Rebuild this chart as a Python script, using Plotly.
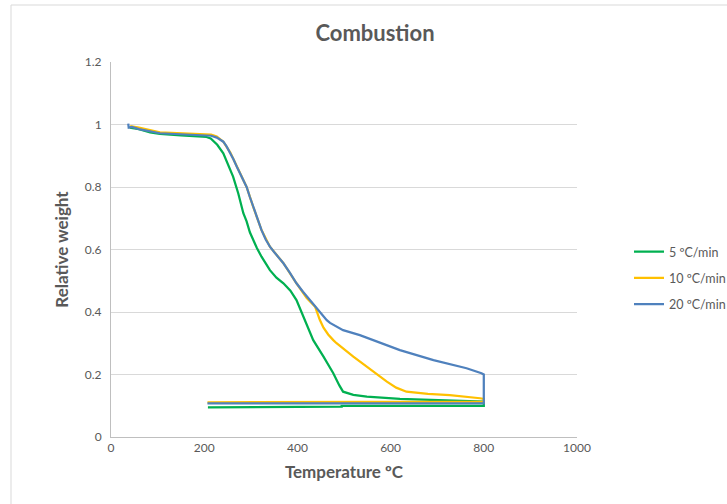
import plotly.graph_objects as go

# 5 °C/min
t5 = [40, 60, 84, 105, 150, 191, 205, 214, 228, 241, 252, 262, 273, 284, 291, 298, 313, 323, 341, 355, 370,
      385, 398, 416, 434, 456, 477, 490, 498, 520, 549, 620, 700, 760, 800, 800, 495, 495, 298, 298, 208]
w5 = [0.99, 0.985, 0.975, 0.97, 0.965, 0.962, 0.96, 0.955, 0.935, 0.908, 0.87, 0.833, 0.78, 0.716, 0.69, 0.655,
      0.605, 0.577, 0.534, 0.51, 0.492, 0.468, 0.438, 0.374, 0.31, 0.257, 0.204, 0.165, 0.145, 0.135, 0.129,
      0.122, 0.118, 0.115, 0.113, 0.1, 0.1, 0.097, 0.097, 0.095, 0.095]

# 10 °C/min
t10 = [41, 60, 105, 150, 191, 215, 227, 241, 256, 270, 291, 305, 323, 341, 359, 370, 398, 420, 438, 448, 456,
       466, 477, 484, 520, 549, 592, 612, 634, 680, 727, 792, 800, 800, 411, 411, 307, 307, 207]
w10 = [0.995, 0.99, 0.975, 0.972, 0.97, 0.968, 0.962, 0.945, 0.91, 0.865, 0.80, 0.737, 0.662, 0.609, 0.577,
       0.556, 0.492, 0.445, 0.417, 0.375, 0.35, 0.328, 0.31, 0.30, 0.257, 0.225, 0.177, 0.158, 0.145, 0.138,
       0.134, 0.124, 0.122, 0.113, 0.113, 0.112, 0.112, 0.111, 0.111]

# 20 °C/min
t20 = [37, 38, 45, 60, 105, 150, 191, 215, 227, 241, 248, 256, 263, 270, 280, 291, 298, 305, 314, 323, 332,
       341, 350, 359, 370, 384, 398, 412, 427, 442, 456, 463, 470, 484, 498, 534, 620, 692, 763, 795, 800,
       800, 207]
w20 = [1.003, 0.99, 0.992, 0.985, 0.972, 0.968, 0.966, 0.964, 0.958, 0.945, 0.93, 0.91, 0.888, 0.865, 0.835,
       0.80, 0.768, 0.737, 0.698, 0.662, 0.632, 0.609, 0.592, 0.577, 0.556, 0.525, 0.492, 0.465, 0.438, 0.412,
       0.385, 0.374, 0.365, 0.353, 0.342, 0.326, 0.278, 0.246, 0.22, 0.204, 0.2, 0.108, 0.108]

names = ["5 ºC/min", "10 ºC/min", "20 ºC/min"]
colors = ["#00B050", "#FFC000", "#4F81BD"]

FONT = "Lato, Open Sans, sans-serif"
fig = go.Figure()
for i, (t, w, n, c) in enumerate(zip([t5, t10, t20], [w5, w10, w20], names, colors)):
    fig.add_trace(go.Scatter(x=t, y=w, mode="lines", name=n, legendgroup=f"g{i}",
                             line=dict(color=c, width=2.25), hoverinfo="skip"))

W, H = 727, 504
L, R, T, B = 111, 150, 62, 67
pw, ph = W - L - R, H - T - B

fig.update_layout(
    width=W, height=H,
    margin=dict(l=L, r=R, t=T, b=B, autoexpand=False),
    paper_bgcolor="white", plot_bgcolor="white",
    font=dict(family=FONT, color="#595959", size=12),
    title=dict(text="<b>Combustion</b>", x=375 / W, xref="container", xanchor="center",
               y=1 - 33 / H, yref="container", yanchor="middle",
               font=dict(size=22, color="#595959", family=FONT)),
    xaxis=dict(range=[0, 1000], dtick=200, tick0=0, showgrid=False, zeroline=False,
               showline=True, linecolor="#BFBFBF", linewidth=1, ticks="",
               tickfont=dict(size=12, color="#595959"),
               title=dict(text="<b>Temperature ºC</b>", font=dict(size=17, color="#595959"), standoff=11)),
    yaxis=dict(range=[0, 1.2], dtick=0.2, tick0=0, showgrid=True, gridcolor="#D9D9D9", gridwidth=1,
               zeroline=False, showline=True, linecolor="#BFBFBF", linewidth=1, ticks="",
               tickfont=dict(size=12, color="#595959"), ticklabelstandoff=6,
               title=dict(text="<b>Relative weight</b>", font=dict(size=17, color="#595959"), standoff=11)),
    legend=dict(x=(629 - L) / pw, xanchor="left", y=(H - B - 237) / ph, yanchor="top",
                font=dict(size=12.5, color="#595959"), bgcolor="rgba(0,0,0,0)",
                tracegroupgap=7, itemwidth=30),
    showlegend=True,
)

# chart area border
fig.add_shape(type="rect", xref="paper", yref="paper",
              x0=(11 - L) / pw, x1=(W + 5 - L) / pw,
              y0=(H - B - (H + 5)) / ph, y1=(H - B - 5) / ph,
              line=dict(color="#D9D9D9", width=1), fillcolor="rgba(0,0,0,0)", layer="below")

fig.write_html("out.html")
